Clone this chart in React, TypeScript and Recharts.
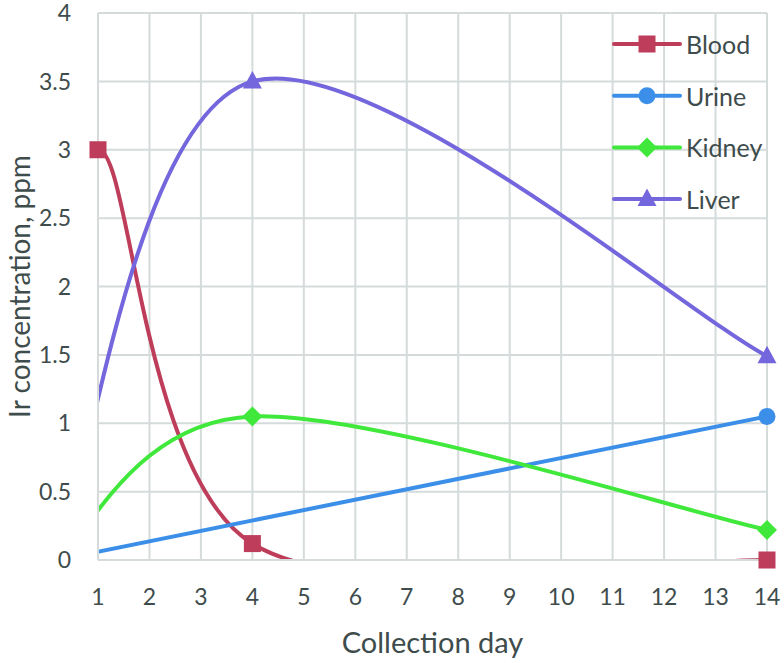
import React from 'react';
import { LineChart, Line, XAxis, YAxis, CartesianGrid, Legend } from 'recharts';

// ---------- data ----------
const dayTicks = [1, 2, 3, 4, 5, 6, 7, 8, 9, 10, 11, 12, 13, 14];
const ppmTicks = [0, 0.5, 1, 1.5, 2, 2.5, 3, 3.5, 4];

const seriesNames = ['Blood', 'Urine', 'Kidney', 'Liver'];

// the first point of each series (day 0.2) lies left of the visible axis;
// the curves enter the plot from outside
const bloodDays = [0.2, 1, 4, 14];
const bloodPpm = [0.0, 3.0, 0.12, 0.0];

const urineDays = [0.2, 14];
const urinePpm = [0.0, 1.05];

const kidneyDays = [0.2, 4, 14];
const kidneyPpm = [0.0, 1.05, 0.22];

const liverDays = [0.2, 4, 14];
const liverPpm = [0.0, 3.5, 1.49];

// ---------- styles ----------
const TEXT = '#3e4c4c';
const GRID = '#d5dbdb';
const FONT = 'Lato, "Open Sans", sans-serif';

const colors = ['#BE3D5A', '#3C8FE8', '#40E83C', '#7466DC'];
const shapes = ['square', 'circle', 'diamond', 'triangle'];

const toRows = (days: number[], vals: number[]) => days.map((d, i) => ({ day: d, ppm: vals[i] }));

const series = [
  { name: seriesNames[0], rows: toRows(bloodDays, bloodPpm) },
  { name: seriesNames[1], rows: toRows(urineDays, urinePpm) },
  { name: seriesNames[2], rows: toRows(kidneyDays, kidneyPpm) },
  { name: seriesNames[3], rows: toRows(liverDays, liverPpm) },
].map((s, i) => ({ ...s, color: colors[i], shape: shapes[i] }));

// Excel-like smoothed line (Bezier with Catmull-Rom style control points)
function excelCurve(context: any) {
  let pts: number[][] = [];
  return {
    areaStart() {},
    areaEnd() {},
    lineStart() {
      pts = [];
    },
    point(x: number, y: number) {
      pts.push([+x, +y]);
    },
    lineEnd() {
      const n = pts.length;
      if (!n) return;
      context.moveTo(pts[0][0], pts[0][1]);
      for (let i = 0; i < n - 1; i++) {
        const p0 = pts[i > 0 ? i - 1 : i];
        const p1 = pts[i];
        const p2 = pts[i + 1];
        const p3 = pts[i + 2 < n ? i + 2 : i + 1];
        context.bezierCurveTo(
          p1[0] + (p2[0] - p0[0]) / 6,
          p1[1] + (p2[1] - p0[1]) / 6,
          p2[0] - (p3[0] - p1[0]) / 6,
          p2[1] - (p3[1] - p1[1]) / 6,
          p2[0],
          p2[1]
        );
      }
    },
  };
}

function Marker({ shape, cx, cy, color }: { shape: string; cx: number; cy: number; color: string }) {
  if (shape === 'square') return <rect x={cx - 8.5} y={cy - 8.5} width={17} height={17} fill={color} />;
  if (shape === 'circle') return <circle cx={cx} cy={cy} r={8.5} fill={color} />;
  if (shape === 'diamond')
    return <polygon points={`${cx},${cy - 10} ${cx + 10},${cy} ${cx},${cy + 10} ${cx - 10},${cy}`} fill={color} />;
  return <polygon points={`${cx},${cy - 10.5} ${cx + 9.5},${cy + 7} ${cx - 9.5},${cy + 7}`} fill={color} />;
}

const makeDot = (shape: string, color: string) => (props: any) => {
  const { cx, cy, index } = props;
  if (cx == null || cy == null) return <g key={`d-${shape}-${index}`} />;
  return (
    <g key={`d-${shape}-${index}`}>
      <Marker shape={shape} cx={cx} cy={cy} color={color} />
    </g>
  );
};

const YTitle = (props: any) => {
  const vb = props.viewBox || { x: 0, y: 13, width: 98, height: 547 };
  const x = vb.x + 19;
  const y = vb.y + vb.height / 2;
  return (
    <text
      x={x}
      y={y}
      transform={`rotate(-90 ${x} ${y})`}
      textAnchor="middle"
      dominantBaseline="central"
      fill={TEXT}
      fontSize={28}
      fontFamily={FONT}
    >
      Ir concentration, ppm
    </text>
  );
};

const XTitle = (props: any) => {
  const vb = props.viewBox || { x: 98, y: 560, width: 669, height: 103 };
  return (
    <text
      x={vb.x + vb.width / 2}
      y={vb.y + 93}
      textAnchor="middle"
      fill={TEXT}
      fontSize={29}
      fontFamily={FONT}
    >
      Collection day
    </text>
  );
};

const LegendBox = () => (
  <svg width={178} height={215} style={{ overflow: 'visible' }}>
    {series.map((s, i) => {
      const cy = 24 + i * 51.7;
      return (
        <g key={s.name}>
          <line x1={8} x2={74} y1={cy} y2={cy} stroke={s.color} strokeWidth={4} strokeLinecap="round" />
          <Marker shape={s.shape} cx={41} cy={cy} color={s.color} />
          <text x={80} y={cy} dominantBaseline="central" fill={TEXT} fontSize={25} fontFamily={FONT}>
            {s.name}
          </text>
        </g>
      );
    })}
  </svg>
);

export default function App() {
  return (
    <div style={{ position: 'absolute', left: 0, top: 0, width: 784, height: 663, background: '#fff' }}>
      <LineChart width={784} height={663} margin={{ top: 13, right: 17, bottom: 0, left: 0 }}>
        <CartesianGrid stroke={GRID} strokeWidth={2} />
        <XAxis
          type="number"
          dataKey="day"
          domain={[1, 14]}
          ticks={dayTicks}
          allowDataOverflow
          interval={0}
          height={103}
          tickSize={0}
          tickMargin={29}
          axisLine={{ stroke: GRID, strokeWidth: 2 }}
          tick={{ fill: TEXT, fontSize: 23, fontFamily: FONT }}
          label={{ content: XTitle }}
        />
        <XAxis xAxisId="m" type="number" dataKey="day" domain={[1, 14]} hide />
        <YAxis
          type="number"
          domain={[0, 4]}
          ticks={ppmTicks}
          allowDataOverflow
          interval={0}
          width={98}
          tickSize={0}
          tickMargin={27}
          axisLine={{ stroke: GRID, strokeWidth: 2 }}
          tick={{ fill: TEXT, fontSize: 23, fontFamily: FONT }}
          label={{ content: YTitle }}
        />
        <YAxis yAxisId="m" type="number" domain={[0, 4]} hide />
        {series.map((s) => (
          <Line
            key={`line-${s.name}`}
            data={s.rows}
            dataKey="ppm"
            name={s.name}
            type={excelCurve as any}
            stroke={s.color}
            strokeWidth={4}
            strokeLinecap="round"
            dot={false}
            activeDot={false}
            legendType="none"
            isAnimationActive={false}
          />
        ))}
        {series.map((s) => (
          <Line
            key={`mark-${s.name}`}
            xAxisId="m"
            yAxisId="m"
            data={s.rows.filter((r) => r.day >= 1)}
            dataKey="ppm"
            name={`${s.name} markers`}
            stroke="none"
            dot={makeDot(s.shape, s.color)}
            activeDot={false}
            legendType="none"
            isAnimationActive={false}
          />
        ))}
        <Legend
          layout="vertical"
          align="center"
          verticalAlign="middle"
          content={LegendBox}
          wrapperStyle={{ position: 'absolute', left: 606, top: 20, width: 178, height: 215 }}
        />
      </LineChart>
    </div>
  );
}
